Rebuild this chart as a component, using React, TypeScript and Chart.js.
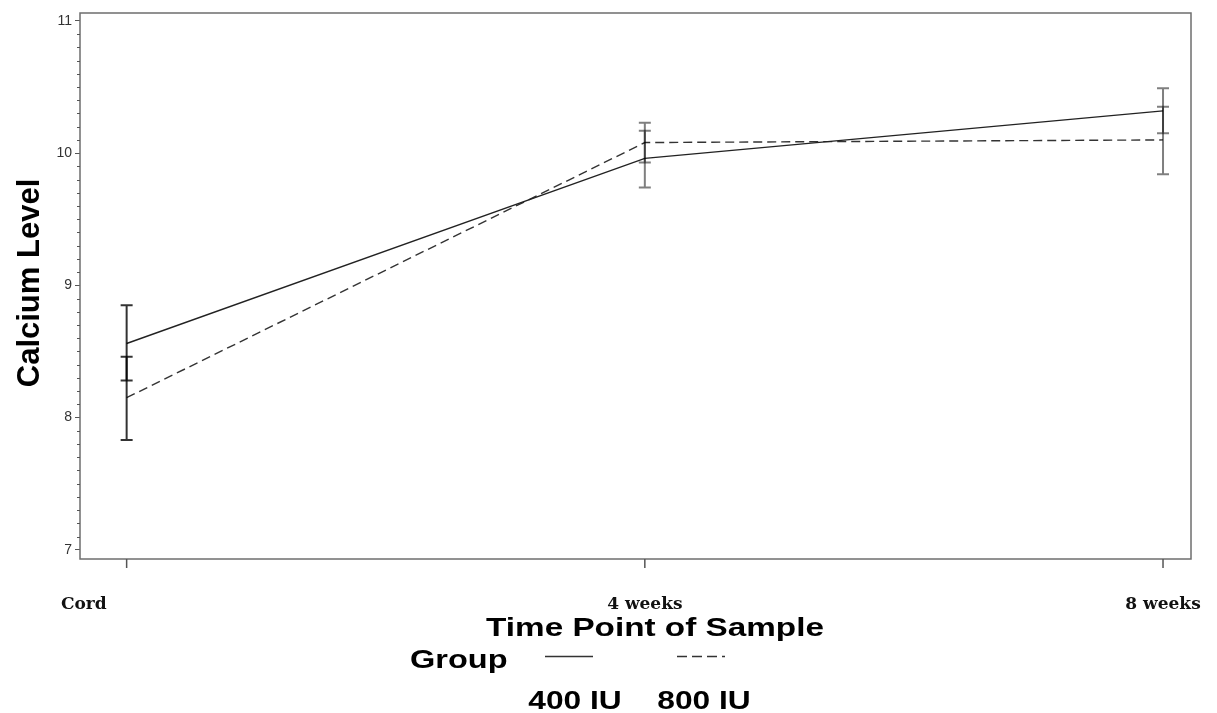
import React, { useEffect, useRef } from "react";
import { Chart, registerables } from "chart.js";
Chart.register(...registerables);

const categories = ["Cord", "4 weeks", "8 weeks"];
const groupLabels = ["400 IU", "800 IU"];
const mean400 = [8.56, 9.96, 10.32];
const low400 = [8.28, 9.74, 10.15];
const high400 = [8.85, 10.17, 10.49];
const mean800 = [8.15, 10.08, 10.1];
const low800 = [7.83, 9.93, 9.84];
const high800 = [8.46, 10.23, 10.35];
const yTicks = [7, 8, 9, 10, 11];

const W = 1217;
const H = 713;
const SANS = "'Liberation Sans', Arial, sans-serif";

function stretchedText(ctx: CanvasRenderingContext2D, text: string, x: number, y: number, align: CanvasTextAlign, sx: number) {
  ctx.save();
  ctx.translate(x, y);
  ctx.scale(sx, 1);
  ctx.textAlign = align;
  ctx.textBaseline = "alphabetic";
  ctx.fillText(text, 0, 0);
  ctx.restore();
}

const decorPlugin = {
  id: "decor",
  afterDatasetsDraw(chart: any) {
    const ctx: CanvasRenderingContext2D = chart.ctx;
    const xs = chart.scales.x;
    const ys = chart.scales.y;
    const bars = [
      { lo: low400, hi: high400 },
      { lo: low800, hi: high800 },
    ];
    ctx.save();
    ctx.lineWidth = 2;
    bars.forEach((b) => {
      categories.forEach((_, i) => {
        ctx.strokeStyle = i === 0 ? "rgba(0,0,0,0.8)" : "rgba(0,0,0,0.5)";
        const x = xs.getPixelForValue(i);
        const y1 = ys.getPixelForValue(b.lo[i]);
        const y2 = ys.getPixelForValue(b.hi[i]);
        ctx.beginPath();
        ctx.moveTo(x, y1);
        ctx.lineTo(x, y2);
        ctx.moveTo(x - 6, y1);
        ctx.lineTo(x + 6, y1);
        ctx.moveTo(x - 6, y2);
        ctx.lineTo(x + 6, y2);
        ctx.stroke();
      });
    });
    ctx.restore();
  },
  afterDraw(chart: any) {
    const ctx: CanvasRenderingContext2D = chart.ctx;
    const { left, right, top, bottom } = chart.chartArea;
    const xs = chart.scales.x;
    const ys = chart.scales.y;
    ctx.save();
    // frame
    ctx.strokeStyle = "#6e6e6e";
    ctx.lineWidth = 1.5;
    ctx.strokeRect(left, top, right - left, bottom - top);
    // minor y ticks
    ctx.strokeStyle = "#555";
    ctx.lineWidth = 1;
    const lo = Math.ceil(ys.min * 10);
    const hi = Math.floor(ys.max * 10);
    for (let k = lo; k <= hi; k++) {
      if (k % 10 === 0) continue;
      const y = Math.round(ys.getPixelForValue(k / 10)) + 0.5;
      ctx.beginPath();
      ctx.moveTo(left - 3, y);
      ctx.lineTo(left, y);
      ctx.stroke();
    }
    // x ticks and labels
    ctx.strokeStyle = "#555";
    ctx.lineWidth = 1.5;
    ctx.fillStyle = "#111";
    ctx.font = `bold 17px 'DejaVu Serif', serif`;
    ctx.textBaseline = "alphabetic";
    categories.forEach((c, i) => {
      const x = xs.getPixelForValue(i);
      ctx.beginPath();
      ctx.moveTo(x, bottom);
      ctx.lineTo(x, bottom + 9);
      ctx.stroke();
      if (i === 0) {
        ctx.textAlign = "right";
        ctx.fillText(c, x - 20, bottom + 50);
      } else {
        ctx.textAlign = "center";
        ctx.fillText(c, x, bottom + 50);
      }
    });
    // x title
    ctx.fillStyle = "#000";
    ctx.font = `bold 26px ${SANS}`;
    stretchedText(ctx, "Time Point of Sample", 655, 636, "center", 1.28);
    // y title
    ctx.save();
    ctx.font = `bold 31px ${SANS}`;
    ctx.translate(39, 283);
    ctx.rotate(-Math.PI / 2);
    ctx.textAlign = "center";
    ctx.textBaseline = "alphabetic";
    ctx.fillText("Calcium Level", 0, 0);
    ctx.restore();
    // legend
    ctx.font = `bold 26px ${SANS}`;
    stretchedText(ctx, "Group", 410, 668, "left", 1.25);
    ctx.strokeStyle = "#333";
    ctx.lineWidth = 1.3;
    ctx.beginPath();
    ctx.moveTo(545, 656.5);
    ctx.lineTo(593, 656.5);
    ctx.stroke();
    ctx.setLineDash([10, 5]);
    ctx.beginPath();
    ctx.moveTo(677, 656.5);
    ctx.lineTo(725, 656.5);
    ctx.stroke();
    ctx.setLineDash([]);
    stretchedText(ctx, groupLabels[0], 575, 709, "center", 1.22);
    stretchedText(ctx, groupLabels[1], 704, 709, "center", 1.22);
    ctx.restore();
  },
};

export default function App() {
  const ref = useRef<HTMLCanvasElement | null>(null);
  useEffect(() => {
    if (!ref.current) return;
    const chart = new Chart(ref.current, {
      type: "line",
      data: {
        datasets: [
          {
            label: groupLabels[0],
            data: categories.map((_, i) => ({ x: i, y: mean400[i] })),
            borderColor: "#222",
            borderWidth: 1.4,
            pointRadius: 0,
            tension: 0,
          },
          {
            label: groupLabels[1],
            data: categories.map((_, i) => ({ x: i, y: mean800[i] })),
            borderColor: "#333",
            borderWidth: 1.4,
            borderDash: [9, 5],
            pointRadius: 0,
            tension: 0,
          },
        ],
      },
      options: {
        animation: false,
        responsive: false,
        layout: { padding: { top: 13, right: 26, left: 0, bottom: 0 } },
        plugins: { legend: { display: false }, tooltip: { enabled: false } },
        scales: {
          x: {
            type: "linear",
            min: -0.09,
            max: 2.054,
            ticks: { display: false },
            grid: { display: false },
            border: { display: false },
            afterFit: (s: any) => {
              s.height = 154;
            },
          },
          y: {
            type: "linear",
            min: 6.93,
            max: 11.06,
            afterBuildTicks: (s: any) => {
              s.ticks = yTicks.map((v) => ({ value: v }));
            },
            ticks: {
              color: "#333",
              font: { family: SANS, size: 14 },
              padding: 3,
              callback: (v: any) => String(v),
            },
            grid: {
              display: true,
              drawOnChartArea: false,
              drawTicks: true,
              tickLength: 5,
              color: "#555",
            },
            border: { display: false },
            afterFit: (s: any) => {
              s.width = 80;
            },
          },
        },
      },
      plugins: [decorPlugin],
    } as any);
    return () => chart.destroy();
  }, []);
  return (
    <div style={{ position: "fixed", left: 0, top: 0, width: W, height: H, background: "#fff" }}>
      <canvas ref={ref} width={W} height={H} style={{ width: W, height: H, display: "block" }} />
    </div>
  );
}
